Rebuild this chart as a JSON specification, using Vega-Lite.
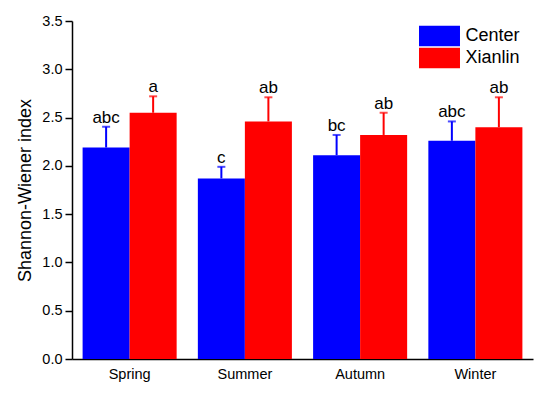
{
  "$schema": "https://vega.github.io/schema/vega-lite/v6.json",
  "width": 461,
  "height": 338,
  "autosize": "none",
  "padding": {"left": 72, "top": 21, "right": 17, "bottom": 34},
  "background": "white",
  "config": {"view": {"stroke": null}, "font": "Liberation Sans"},
  "data": {
    "values": [
      {"season": "Spring", "site": "Center", "value": 2.19, "err": 2.405, "label": "abc"},
      {"season": "Spring", "site": "Xianlin", "value": 2.55, "err": 2.72, "label": "a"},
      {"season": "Summer", "site": "Center", "value": 1.87, "err": 1.99, "label": "c"},
      {"season": "Summer", "site": "Xianlin", "value": 2.46, "err": 2.71, "label": "ab"},
      {"season": "Autumn", "site": "Center", "value": 2.11, "err": 2.32, "label": "bc"},
      {"season": "Autumn", "site": "Xianlin", "value": 2.32, "err": 2.55, "label": "ab"},
      {"season": "Winter", "site": "Center", "value": 2.26, "err": 2.46, "label": "abc"},
      {"season": "Winter", "site": "Xianlin", "value": 2.40, "err": 2.71, "label": "ab"}
    ]
  },
  "encoding": {
    "x": {
      "field": "season", "type": "nominal",
      "sort": ["Spring", "Summer", "Autumn", "Winter"],
      "scale": {"paddingInner": 0.184, "paddingOuter": 0.092},
      "axis": {"title": null, "labelAngle": 0, "labelFontSize": 14.5, "labelColor": "black", "ticks": false, "domainColor": "black", "domainWidth": 1.5, "labelPadding": 8}
    },
    "xOffset": {"field": "site", "sort": ["Center", "Xianlin"]},
    "color": {
      "field": "site", "type": "nominal",
      "scale": {"domain": ["Center", "Xianlin"], "range": ["#0000FF", "#FF0000"]},
      "legend": {"title": null, "orient": "none", "legendX": 357, "legendY": 4.5, "symbolType": "M-2,-1H2V1H-2Z", "symbolSize": 420, "symbolStrokeWidth": 0, "symbolOpacity": 1, "labelFontSize": 18, "labelColor": "black", "labelOffset": 15.5, "rowPadding": 1}
    }
  },
  "layer": [
    {
      "mark": {"type": "bar", "opacity": 1},
      "encoding": {
        "y": {
          "field": "value", "type": "quantitative",
          "scale": {"domain": [0, 3.5], "nice": false},
          "axis": {
            "title": "Shannon-Wiener index", "titleFontSize": 18, "titleFontWeight": "normal", "titleColor": "black", "titlePadding": 7,
            "values": [0, 0.25, 0.5, 0.75, 1, 1.25, 1.5, 1.75, 2, 2.25, 2.5, 2.75, 3, 3.25, 3.5],
            "labelExpr": "round(datum.value*2) == datum.value*2 ? format(datum.value, '.1f') : ''",
            "labelOverlap": false, "labelFontSize": 14.5, "labelColor": "black", "labelPadding": 3,
            "tickColor": "black", "tickWidth": 1.5, "domainColor": "black", "domainWidth": 1.5, "grid": false,
            "tickSize": {"condition": {"test": "round(datum.value*2) != datum.value*2", "value": 4}, "value": 7}
          }
        }
      }
    },
    {
      "mark": {"type": "rule", "strokeWidth": 2},
      "encoding": {"y": {"field": "value", "type": "quantitative"}, "y2": {"field": "err"}}
    },
    {
      "mark": {"type": "tick", "thickness": 2, "size": 8, "orient": "horizontal"},
      "encoding": {"y": {"field": "err", "type": "quantitative"}}
    },
    {
      "mark": {"type": "text", "dy": -4, "fontSize": 17, "baseline": "alphabetic"},
      "encoding": {"y": {"field": "err", "type": "quantitative"}, "text": {"field": "label"}, "color": {"value": "black"}}
    }
  ]
}
